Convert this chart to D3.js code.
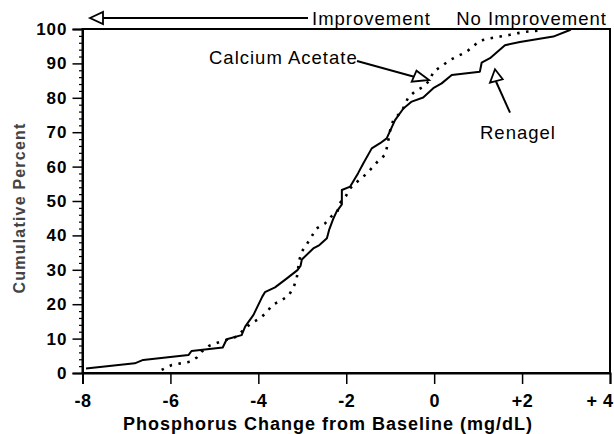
<!DOCTYPE html>
<html><head><meta charset="utf-8">
<script src="https://cdn.jsdelivr.net/npm/d3@7/dist/d3.min.js"></script>
<style>body{margin:0;background:#fff}</style>
</head><body>
<svg id="c" width="614" height="434"></svg>
<script>
// Renagel (solid) – phosphorus change vs cumulative percent
const renagelChange = [-7.92,-6.81,-6.62,-5.59,-5.52,-4.81,-4.72,-4.38,-4.30,-4.11,-3.91,-3.85,-3.62,-3.35,-3.11,-3.04,-3.01,-2.75,-2.61,-2.44,-2.39,-2.29,-2.22,-2.14,-2.10,-2.10,-1.91,-1.73,-1.61,-1.42,-1.23,-1.08,-0.89,-0.70,-0.51,-0.25,-0.02,0.17,0.40,1.04,1.08,1.27,1.61,1.95,2.71,3.09,3.12];
const renagelPct    = [1.3,2.8,3.8,5.2,6.4,7.4,9.8,11,13.5,16.9,22.2,23.5,24.9,27.5,29.9,31.1,33.0,36.2,37.2,39.2,41.6,45,46.9,48.3,49,53.2,54.2,58.1,61,65.3,66.8,68.2,73.5,76.9,78.9,80.1,82.8,84.2,86.6,87.6,90.2,91.5,95.3,96.2,97.8,99.7,100];
// Calcium Acetate (dotted)
const calciumChange = [-6.20,-5.97,-5.77,-5.54,-5.40,-5.29,-5.12,-4.91,-4.70,-4.49,-4.34,-4.17,-3.96,-3.80,-3.68,-3.49,-3.31,-3.20,-3.13,-3.10,-3.07,-3.01,-2.90,-2.79,-2.69,-2.48,-2.35,-2.20,-2.16,-2.01,-1.91,-1.75,-1.53,-1.29,-1.12,-1.07,-1.00,-0.93,-0.82,-0.74,-0.59,-0.44,-0.25,-0.09,-0.02,0.17,0.36,0.55,0.74,1.04,1.27,1.50,1.72,1.91,2.10,2.37,2.45];
const calciumPct    = [0.9,2.3,2.8,3.3,4.5,6.2,7.9,8.9,9.7,10.6,12.5,14.4,15.9,17.8,19.8,21,22.5,24.9,27.3,29.9,32.7,35.3,37.4,39.6,41.9,43.5,45.4,46.9,49.2,51.4,53.7,55.6,58,61.4,63.4,65.8,70.6,73.5,75,76,80.1,81.8,83.2,85.2,87.6,89.2,91,92.2,93.4,96.6,97.3,97.8,98.3,98.8,99.2,99.5,100];

const xTicks = [-8,-6,-4,-2,0,2,4];
const xTickLabels = ["-8","-6","-4","-2","0","+2","+ 4"];
const yTicks = [0,10,20,30,40,50,60,70,80,90,100];
const yMinorTicks = d3.range(0,101,2).filter(v=>v%10!==0);

const xTitle = "Phosphorus Change from Baseline (mg/dL)";
const yTitle = "Cumulative Percent";

const svg = d3.select("#c");
const L=82.5, R=610, T=29, B=373;
const x = d3.scaleLinear().domain([-8,4]).range([L,R]);
const y = d3.scaleLinear().domain([0,100]).range([B,T]);
const font = "'Liberation Sans', Arial, sans-serif";

// curves
const line = d3.line().x(d=>x(d[0])).y(d=>y(d[1]));
svg.append("path").datum(d3.zip(calciumChange, calciumPct))
  .attr("d", line).attr("fill","none").attr("stroke","#000")
  .attr("stroke-width",2.6).attr("stroke-dasharray","2.5,6.5");
svg.append("path").datum(d3.zip(renagelChange, renagelPct))
  .attr("d", line).attr("fill","none").attr("stroke","#000")
  .attr("stroke-width",2).attr("stroke-linejoin","round");

// frame
svg.append("rect").attr("x",L).attr("y",T).attr("width",R-L).attr("height",B-T)
  .attr("fill","none").attr("stroke","#000").attr("stroke-width",2);

// y axis
const yAxis = svg.append("g").attr("transform",`translate(${L},0)`)
  .call(d3.axisLeft(y).tickValues(yTicks).tickSize(10).tickPadding(5).tickFormat(d3.format("d")));
yAxis.select(".domain").attr("stroke-width",2);
yAxis.selectAll(".tick line").attr("stroke-width",1.5);
yAxis.selectAll("text").attr("font-family",font).attr("font-size",17).attr("font-weight","bold")
  .attr("letter-spacing","1px").attr("fill","#000");
const yMinor = svg.append("g").attr("transform",`translate(${L+1.5},0)`)
  .call(d3.axisLeft(y).tickValues(yMinorTicks).tickSize(5).tickFormat(""));
yMinor.select(".domain").remove();
yMinor.selectAll(".tick line").attr("stroke-width",1.2);

// x axis
const xAxis = svg.append("g").attr("transform",`translate(0,${B})`)
  .call(d3.axisBottom(x).tickValues(xTicks).tickSize(11).tickPadding(10)
    .tickFormat((d,i)=>xTickLabels[i]));
xAxis.select(".domain").attr("stroke-width",2);
xAxis.selectAll(".tick line").attr("stroke-width",1.5);
xAxis.selectAll("text").attr("font-family",font).attr("font-size",18).attr("font-weight","bold")
  .attr("letter-spacing","0.5px").attr("fill","#000");
// keep last label inside the picture, as in the reference
xAxis.selectAll(".tick").filter(d=>d===4).select("text")
  .attr("text-anchor","end").attr("x",3);

// titles
svg.append("text").attr("x",328).attr("y",430).attr("text-anchor","middle")
  .attr("font-family",font).attr("font-size",18).attr("font-weight","bold")
  .attr("letter-spacing","1px").text(xTitle);
svg.append("text").attr("transform","translate(25,208) rotate(-90)").attr("text-anchor","middle")
  .attr("font-family",font).attr("font-size",16).attr("font-weight","bold")
  .attr("letter-spacing","1.2px").attr("fill","#444").text(yTitle);

// annotations
const ann = (t,xx,yy,anchor)=>svg.append("text").attr("x",xx).attr("y",yy)
  .attr("text-anchor",anchor||"start").attr("font-family",font).attr("font-size",18.5)
  .attr("letter-spacing","1px").text(t);
ann("Improvement",312,25);
ann("No Improvement",607,25,"end");
ann("Calcium Acetate",209,64);
ann("Renagel",480,139);

const seg=(x1,y1,x2,y2)=>svg.append("line").attr("x1",x1).attr("y1",y1).attr("x2",x2).attr("y2",y2)
  .attr("stroke","#000").attr("stroke-width",2);
const tri=(pts)=>svg.append("polygon").attr("points",pts.map(p=>p.join(",")).join(" "))
  .attr("fill","#fff").attr("stroke","#000").attr("stroke-width",1.8);
seg(308,18,103,18); tri([[90,18],[103,12],[103,24]]);
seg(357,61,415,77); tri([[429,80],[416.5,70.7],[411.7,81.7]]);
seg(510,112.7,496,81.5); tri([[495,69.3],[490,82.7],[502.7,79.3]]);
</script>
</body></html>
